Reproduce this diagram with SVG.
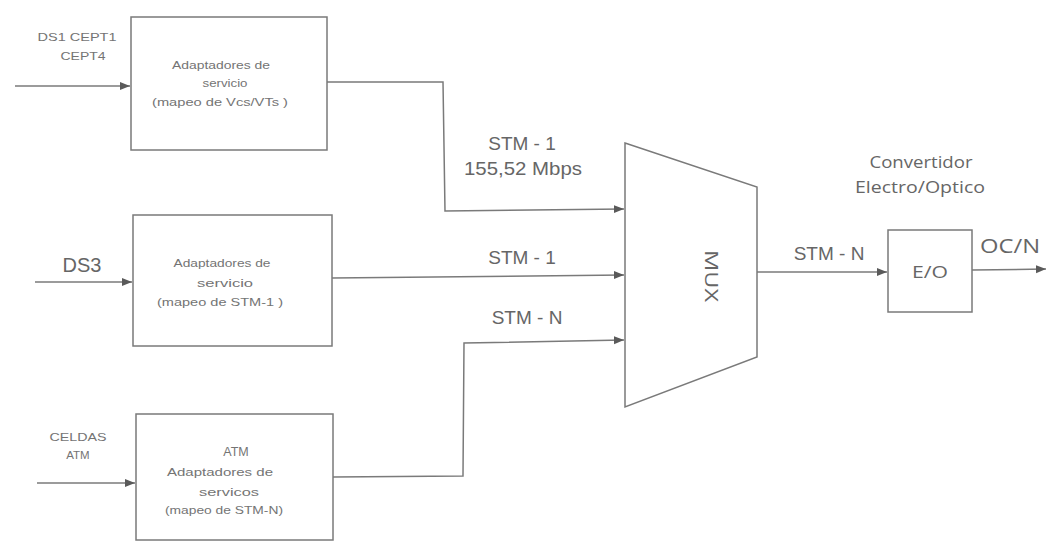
<svg xmlns="http://www.w3.org/2000/svg" width="1046" height="543" viewBox="0 0 1046 543">
<style>
.box{fill:#fff;stroke:#7a7a7a;stroke-width:1.5}
.ln{fill:none;stroke:#7a7a7a;stroke-width:1.5}
.s{font-family:"Liberation Sans",Arial,sans-serif;font-size:11.5px;fill:#747474;text-anchor:middle}
.m{font-family:"Liberation Sans",Arial,sans-serif;font-size:19px;fill:#666;text-anchor:middle}
.g{font-family:"Open Sans","Liberation Sans",sans-serif;font-size:16px;fill:#666;text-anchor:middle}
</style>
<defs>
<marker id="ah" markerUnits="userSpaceOnUse" markerWidth="10" markerHeight="10" viewBox="0 0 10 10" refX="10" refY="5" orient="auto">
<path d="M0,1 L10,5 L0,9 Z" fill="#5a5a5a"/>
</marker>
</defs>
<rect width="1046" height="543" fill="#fff"/>
<g id="connectors">
<path class="ln" d="M15,86 H130" marker-end="url(#ah)"/>
<path class="ln" d="M35,282 H132" marker-end="url(#ah)"/>
<path class="ln" d="M37,483 H135" marker-end="url(#ah)"/>
<polyline class="ln" points="327,82 443,82 445,211 624,209" marker-end="url(#ah)"/>
<path class="ln" d="M332,278 L624,275" marker-end="url(#ah)"/>
<polyline class="ln" points="333,477 463,476 464,343 624,340" marker-end="url(#ah)"/>
<path class="ln" d="M757,272 H887" marker-end="url(#ah)"/>
<path class="ln" d="M972,270 L1046,269" marker-end="url(#ah)"/>
</g>
<g id="labels">
<text class="s" x="77" y="41" textLength="79" lengthAdjust="spacingAndGlyphs">DS1 CEPT1</text>
<text class="s" x="83" y="60" textLength="45" lengthAdjust="spacingAndGlyphs">CEPT4</text>
<text class="m" x="82" y="272" style="font-size:20px">DS3</text>
<text class="s" x="78" y="441" textLength="57" lengthAdjust="spacingAndGlyphs">CELDAS</text>
<text class="s" x="78" y="459">ATM</text>
<text class="m" x="522" y="150">STM - 1</text>
<text class="m" x="523" y="175" textLength="118" lengthAdjust="spacingAndGlyphs">155,52 Mbps</text>
<text class="m" x="522" y="264">STM - 1</text>
<text class="m" x="527" y="324">STM - N</text>
<text class="m" x="829" y="260">STM - N</text>
<text class="g" x="921" y="168" textLength="103" lengthAdjust="spacingAndGlyphs">Convertidor</text>
<text class="g" x="920" y="193" textLength="130" lengthAdjust="spacingAndGlyphs">Electro/Optico</text>
<text class="g" x="1010" y="253" style="font-size:20px" textLength="60" lengthAdjust="spacingAndGlyphs">OC/N</text>
</g>
<g id="box1">
<rect class="box" x="131" y="17" width="196" height="133"/>
<text class="s" x="221" y="69" textLength="98" lengthAdjust="spacingAndGlyphs">Adaptadores de</text>
<text class="s" x="225" y="87" textLength="45" lengthAdjust="spacingAndGlyphs">servicio</text>
<text class="s" x="220" y="106" textLength="136" lengthAdjust="spacingAndGlyphs">(mapeo  de Vcs/VTs )</text>
</g>
<g id="box2">
<rect class="box" x="133" y="215" width="199" height="131"/>
<text class="s" x="222" y="267" textLength="97" lengthAdjust="spacingAndGlyphs">Adaptadores de</text>
<text class="s" x="225" y="287" textLength="56" lengthAdjust="spacingAndGlyphs">servicio</text>
<text class="s" x="220" y="306" textLength="126" lengthAdjust="spacingAndGlyphs">(mapeo  de STM-1 )</text>
</g>
<g id="box3">
<rect class="box" x="136" y="414" width="197" height="126"/>
<text class="s" x="236" y="456" style="font-size:12.5px">ATM</text>
<text class="s" x="220" y="476" textLength="106" lengthAdjust="spacingAndGlyphs">Adaptadores de</text>
<text class="s" x="229" y="496" textLength="60" lengthAdjust="spacingAndGlyphs">servicos</text>
<text class="s" x="224" y="514" textLength="118" lengthAdjust="spacingAndGlyphs">(mapeo de STM-N)</text>
</g>
<g id="mux">
<polygon class="box" points="625,143 757,187 757,357 625,407"/>
<text class="g" x="0" y="0" style="font-size:19px" transform="translate(705,276) rotate(90)" textLength="52" lengthAdjust="spacingAndGlyphs">MUX</text>
</g>
<g id="eo">
<rect class="box" x="888" y="230" width="84" height="82"/>
<text class="g" x="930" y="278" textLength="36" lengthAdjust="spacingAndGlyphs">E/O</text>
</g>
</svg>
